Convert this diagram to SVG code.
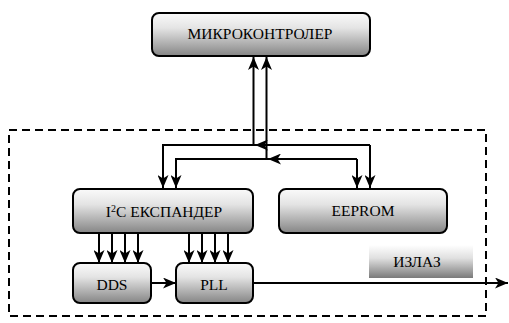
<svg xmlns="http://www.w3.org/2000/svg" width="509" height="323" viewBox="0 0 509 323">
<style>
.box{stroke:#000;stroke-width:2;fill:url(#g)}
.t{font-family:'Liberation Serif','Times New Roman',serif;font-size:15.5px;fill:#000;text-anchor:middle}
.c{fill:none;stroke:#000;stroke-width:2}
.a{marker-end:url(#ah)}
</style>
<defs>
<linearGradient id="g" x1="0" y1="0" x2="0" y2="1">
<stop offset="0" stop-color="#fafafa"/>
<stop offset="0.35" stop-color="#e4e4e4"/>
<stop offset="1" stop-color="#858585"/>
</linearGradient>
<linearGradient id="g2" x1="0" y1="0" x2="0" y2="1">
<stop offset="0" stop-color="#ffffff"/>
<stop offset="0.4" stop-color="#e0e0e0"/>
<stop offset="1" stop-color="#7a7a7a"/>
</linearGradient>
<marker id="ah" viewBox="0 0 13 11" refX="13" refY="5.5" markerWidth="13" markerHeight="11" markerUnits="userSpaceOnUse" orient="auto">
<path d="M0,0 L13,5.5 L0,11 L3.5,5.5 z" fill="#000"/>
</marker>
</defs>
<rect x="9" y="130" width="477" height="186" fill="none" stroke="#000" stroke-width="2" stroke-dasharray="8,5"/>
<g id="mcu"><rect class="box" x="152" y="13" width="218" height="43" rx="7"/><text class="t" x="260" y="39">МИКРОКОНТРОЛЕР</text></g>
<g id="i2c"><rect class="box" x="73" y="189" width="180" height="44" rx="7"/><text class="t" x="164" y="217">I<tspan font-size="10" dy="-5">2</tspan><tspan dy="5">C ЕКСПАНДЕР</tspan></text></g>
<g id="eeprom"><rect class="box" x="279" y="189" width="168" height="44" rx="7"/><text class="t" x="363" y="216">EEPROM</text></g>
<g id="dds"><rect class="box" x="73" y="263" width="78" height="40" rx="7"/><text class="t" x="112" y="290">DDS</text></g>
<g id="pll"><rect class="box" x="176" y="263" width="77" height="40" rx="7"/><text class="t" x="214" y="290">PLL</text></g>
<g id="izlaz"><rect x="369" y="245" width="104" height="33" fill="url(#g2)"/><text class="t" x="417" y="267">ИЗЛАЗ</text></g>
<g id="connectors">
<path class="c a" d="M253.5,145 V57"/>
<path class="c a" d="M266.5,159 V57"/>
<path class="c a" d="M370,145 H163 V188"/>
<path class="c a" d="M370,145 V188"/>
<path class="c a" d="M357,159 H176 V188"/>
<path class="c a" d="M357,159 V188"/>
<path class="c a" d="M268,145 H255"/>
<path class="c a" d="M281,159 H268"/>
<path class="c a" d="M99,233 V263"/>
<path class="c a" d="M112,233 V263"/>
<path class="c a" d="M125,233 V263"/>
<path class="c a" d="M138,233 V263"/>
<path class="c a" d="M189,233 V263"/>
<path class="c a" d="M202,233 V263"/>
<path class="c a" d="M215,233 V263"/>
<path class="c a" d="M228,233 V263"/>
<path class="c a" d="M151,283 H176"/>
<path class="c a" d="M253,283 H508"/>
</g>
</svg>
